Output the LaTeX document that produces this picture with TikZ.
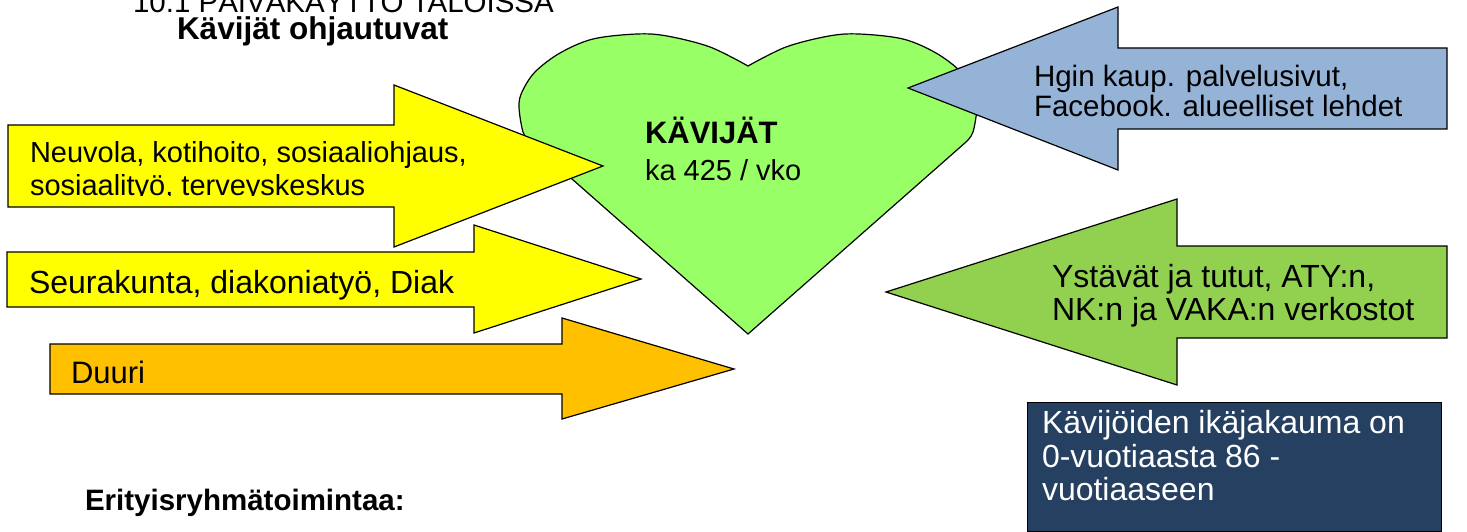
\documentclass[tikz,border=0pt]{standalone}
\usepackage{fontspec}
\setmainfont{Liberation Sans}
\definecolor{yel}{HTML}{FFFF00}
\definecolor{ora}{HTML}{FFC000}
\definecolor{heartg}{HTML}{99FF66}
\definecolor{bluea}{HTML}{95B3D7}
\definecolor{greena}{HTML}{92D050}
\definecolor{navy}{HTML}{254061}
\tikzset{
  shp/.style={draw=black, line width=1.2pt, line join=miter},
  txt/.style={anchor=base west, inner sep=0pt, outer sep=0pt},
}
\newcommand{\fs}[1]{\fontsize{#1}{#1}\selectfont}
\begin{document}
\begin{tikzpicture}[x=1pt,y=-1pt]
\useasboundingbox (0,0) rectangle (1467,532);
\clip (0,0) rectangle (1467,532);
\fill[white] (0,0) rectangle (1467,532);
% heart
\draw[shp, fill=heartg] (748,66)
  -- plot[smooth, tension=0.55] coordinates {(748,66) (710,47) (667,36) (637,34) (593,39) (560,53) (535,72) (522,92) (519,107) (523,132) (530,142)}
  -- (748,334)
  -- plot[smooth, tension=0.55] coordinates {(966,142) (973,132) (977,107) (974,92) (961,72) (936,53) (903,39) (859,34) (829,36) (786,47) (748,66)}
  -- cycle;
\node[txt, font=\fs{31}\bfseries] (kav) at (645,143) {KÄVIJÄT};
\node[txt, font=\fs{29}] (ka) at (645,180) {ka 425 / vko};
% left arrows
\draw[shp, fill=yel] (8,125) -- (394,125) -- (394,85) -- (603,166) -- (394,247) -- (394,207) -- (8,207) -- cycle;
\node[txt, font=\fs{29}] (neu1) at (30,163) {Neuvola, kotihoito, sosiaaliohjaus,};
\begin{scope}
\clip (8,125) rectangle (394,195.5);
\node[txt, font=\fs{29}] (neu2) at (30,195) {sosiaalityö, terveyskeskus};
\end{scope}
\draw[shp, fill=yel] (7,252) -- (474,252) -- (474,225) -- (641,279) -- (474,333) -- (474,307) -- (7,307) -- cycle;
\node[txt, font=\fs{32}] (seu) at (29,293) {Seurakunta, diakoniatyö, Diak};
\draw[shp, fill=ora] (50,344) -- (562,344) -- (562,318) -- (734,369) -- (562,419) -- (562,394) -- (50,394) -- cycle;
\node[txt, font=\fs{31}] (duu) at (71,383) {Duuri};
% right arrows
\draw[shp, fill=bluea] (1447,48) -- (1118,48) -- (1118,7) -- (908,88) -- (1118,170) -- (1118,129) -- (1447,129) -- cycle;
\node[txt, font=\fs{29.5}] (hg1) at (1034,87) {Hgin kaup. palvelusivut,};
\node[txt, font=\fs{29.5}] (hg2) at (1034,117) {Facebook. alueelliset lehdet};
\draw[shp, fill=greena] (1447,246) -- (1177,246) -- (1177,199) -- (886,292) -- (1177,385) -- (1177,338) -- (1447,338) -- cycle;
\node[txt, font=\fs{32}] (ys1) at (1052,287) {Ystävät ja tutut, ATY:n,};
\node[txt, font=\fs{32}] (ys2) at (1052,320) {NK:n ja VAKA:n verkostot};
% box
\draw[fill=navy, draw=black, line width=1pt] (1027,402) rectangle (1441,531);
\node[txt, font=\fs{32}, text=white] (bx1) at (1042,433) {Kävijöiden ikäjakauma on};
\node[txt, font=\fs{32}, text=white] (bx2) at (1042,467) {0-vuotiaasta 86 -};
\node[txt, font=\fs{32}, text=white] (bx3) at (1042,500) {vuotiaaseen};
% titles
\node[txt, font=\fs{29.5}] (tit) at (133,13) {10.1 PÄIVÄKÄYTTÖ TALOISSA};
\node[txt, font=\fs{31.5}\bfseries] (sub) at (177,40) {Kävijät ohjautuvat};
\node[txt, font=\fs{29.5}\bfseries] (eri) at (85,510) {Erityisryhmätoimintaa:};
\end{tikzpicture}
\end{document}
